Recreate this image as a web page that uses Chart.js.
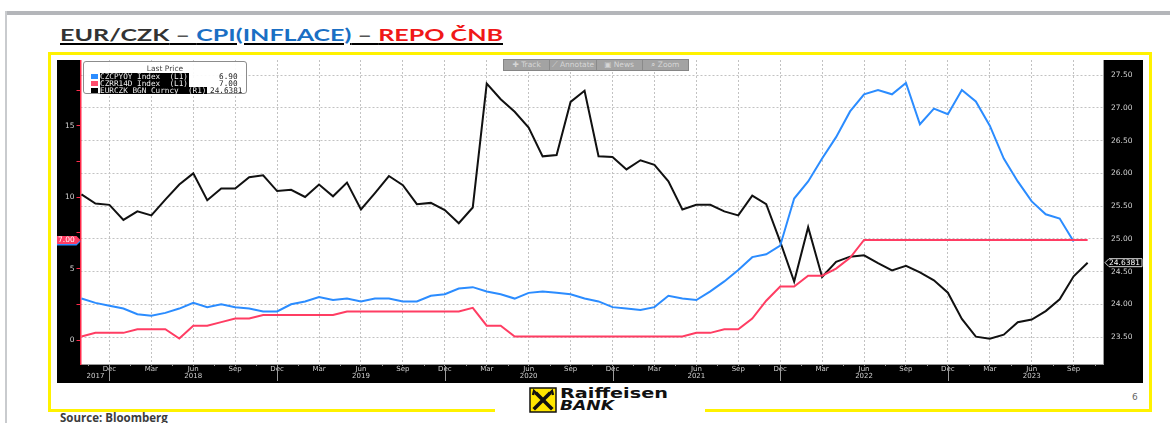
<!DOCTYPE html>
<html><head><meta charset="utf-8">
<script src="https://cdn.jsdelivr.net/npm/chart.js@4.4.0/dist/chart.umd.min.js"></script>
<style>
html,body{margin:0;padding:0;background:#fff;width:1170px;height:423px;overflow:hidden;position:relative;}
#topline{position:absolute;left:5px;top:11px;width:1165px;height:4px;background:#b4b6ba;}
#leftline{position:absolute;left:5px;top:11px;width:2px;height:412px;background:#c9cbce;}
#title{position:absolute;left:60px;top:24px;font:bold 17px Lato,'Open Sans',sans-serif;white-space:pre;text-decoration:underline;text-decoration-thickness:1.5px;text-underline-offset:2px;transform-origin:0 0;}
.y{position:absolute;background:#fff200;}
#chartwrap{position:absolute;left:57px;top:60px;width:1086px;height:323px;}
#legend{position:absolute;left:83px;top:61px;width:162px;height:31px;background:rgba(255,255,255,0.92);border:1px solid #8c8c8c;border-radius:3px;font-family:'DejaVu Sans Mono',monospace;font-size:7.7px;color:#222;}
#legend .lp{position:absolute;left:0;width:100%;top:3px;text-align:center;font-family:'DejaVu Sans',sans-serif;font-size:7.5px;color:#444;line-height:8px;}
#legend .row{position:absolute;left:0;width:100%;height:7px;}
#legend .sw{position:absolute;left:7px;top:1px;width:7px;height:5px;}
#legend .nm{position:absolute;left:16px;top:0;height:7px;line-height:7px;background:#000;color:#f0f0f0;white-space:pre;padding-right:1px;}
#legend .val{position:absolute;top:0;line-height:7px;color:#222;white-space:pre;}
#toolbar{position:absolute;left:503px;top:59px;width:184px;height:10px;background:#a3a3a3;border:1px solid #858585;font-family:'DejaVu Sans',sans-serif;font-size:7.5px;line-height:10px;color:#d6d6d6;display:flex;}
#toolbar span{flex:1;text-align:center;border-right:1px solid #8a8a8a;white-space:nowrap;}
#source{position:absolute;left:60px;top:410px;font:bold 11.5px 'Open Sans',sans-serif;color:#3c3c3c;}
#page{position:absolute;left:1132px;top:392px;font:9px 'DejaVu Sans',sans-serif;color:#666;}
#logo{position:absolute;left:524px;top:386px;width:154px;height:27px;background:#fff;}
#logo .t1{position:absolute;left:36px;top:-1px;font:bold 14px 'DejaVu Sans',sans-serif;color:#111;transform-origin:0 0;white-space:nowrap;}
#logo .t2{position:absolute;left:36px;top:11px;font:italic bold 14px 'DejaVu Sans',sans-serif;color:#111;transform-origin:0 0;white-space:nowrap;}
</style></head>
<body>
<div id="topline"></div><div id="leftline"></div>
<div id="title"><span style="color:#333">EUR/CZK</span><span style="color:#555"> – </span><span style="color:#1a6fc4">CPI(INFLACE)</span><span style="color:#555"> – </span><span style="color:#f01818">REPO ČNB</span></div>
<div class="y" style="left:48px;top:52px;width:1104px;height:3px"></div>
<div class="y" style="left:48px;top:52px;width:3px;height:360px"></div>
<div class="y" style="left:1149px;top:52px;width:3px;height:360px"></div>
<div class="y" style="left:48px;top:409px;width:447px;height:3px"></div>
<div class="y" style="left:705px;top:409px;width:447px;height:3px"></div>
<div id="chartwrap"><canvas id="c" width="1086" height="323"></canvas></div>
<div id="legend">
  <div class="lp">Last Price</div>
  <div class="row" style="top:11px"><span class="sw" style="background:#2b8cff"></span><span class="nm">CZCPYOY Index  (L1)</span><span class="val" style="left:135px">6.90</span></div>
  <div class="row" style="top:18px"><span class="sw" style="background:#ff4d6d"></span><span class="nm">CZRR14D Index  (L1)</span><span class="val" style="left:135px">7.00</span></div>
  <div class="row" style="top:25px"><span class="sw" style="background:#000"></span><span class="nm">EURCZK BGN Curncy  (R1)</span><span class="val" style="left:126px">24.6381</span></div>
</div>
<div id="toolbar"><span>✚ Track</span><span>⟋ Annotate</span><span>▣ News</span><span style="border-right:none">⌕ Zoom</span></div>
<div id="logo">
  <svg width="30" height="26" viewBox="0 0 28 26" style="position:absolute;left:4px;top:1px">
    <rect x="1" y="1" width="26" height="24" fill="#ffe600" stroke="#111" stroke-width="1.5"/>
    <path d="M6 21 L20 7" stroke="#111" stroke-width="3.6" stroke-linecap="square"/>
    <path d="M8 7 L22 21" stroke="#111" stroke-width="3.6" stroke-linecap="square"/>
    <path d="M20 7 L23 4 L24 8" stroke="#111" stroke-width="2.4" fill="none"/>
    <path d="M8 7 L5 4 L4 8" stroke="#111" stroke-width="2.4" fill="none"/>
  </svg>
  <div class="t1" id="lt1">Raiffeisen</div>
  <div class="t2" id="lt2">BANK</div>
</div>
<div id="page">6</div>
<div id="source">Source: Bloomberg</div>
<script>
// ---- data (monthly, month-end) ----
const categories = ['Oct 2017','Nov 2017','Dec 2017',
 'Jan 2018','Feb 2018','Mar 2018','Apr 2018','May 2018','Jun 2018','Jul 2018','Aug 2018','Sep 2018','Oct 2018','Nov 2018','Dec 2018',
 'Jan 2019','Feb 2019','Mar 2019','Apr 2019','May 2019','Jun 2019','Jul 2019','Aug 2019','Sep 2019','Oct 2019','Nov 2019','Dec 2019',
 'Jan 2020','Feb 2020','Mar 2020','Apr 2020','May 2020','Jun 2020','Jul 2020','Aug 2020','Sep 2020','Oct 2020','Nov 2020','Dec 2020',
 'Jan 2021','Feb 2021','Mar 2021','Apr 2021','May 2021','Jun 2021','Jul 2021','Aug 2021','Sep 2021','Oct 2021','Nov 2021','Dec 2021',
 'Jan 2022','Feb 2022','Mar 2022','Apr 2022','May 2022','Jun 2022','Jul 2022','Aug 2022','Sep 2022','Oct 2022','Nov 2022','Dec 2022',
 'Jan 2023','Feb 2023','Mar 2023','Apr 2023','May 2023','Jun 2023','Jul 2023','Aug 2023','Sep 2023','Oct 2023'];

const eurczk = [25.68,25.54,25.52,
 25.29,25.42,25.36,25.60,25.83,26.00,25.59,25.77,25.77,25.94,25.97,25.73,
 25.75,25.64,25.83,25.65,25.86,25.45,25.70,25.96,25.82,25.53,25.55,25.44,
 25.24,25.48,27.37,27.13,26.94,26.70,26.26,26.28,27.09,27.26,26.26,26.25,
 26.06,26.20,26.13,25.88,25.45,25.52,25.52,25.42,25.36,25.66,25.53,24.96,
 24.35,25.18,24.42,24.65,24.73,24.75,24.63,24.52,24.59,24.49,24.37,24.18,
 23.78,23.51,23.48,23.54,23.73,23.77,23.90,24.08,24.43,24.6381];

const cpi = [2.9,2.6,2.4,
 2.2,1.8,1.7,1.9,2.2,2.6,2.3,2.5,2.3,2.2,2.0,2.0,
 2.5,2.7,3.0,2.8,2.9,2.7,2.9,2.9,2.7,2.7,3.1,3.2,
 3.6,3.7,3.4,3.2,2.9,3.3,3.4,3.3,3.2,2.9,2.7,2.3,
 2.2,2.1,2.3,3.1,2.9,2.8,3.4,4.1,4.9,5.8,6.0,6.6,
 9.9,11.1,12.7,14.2,16.0,17.2,17.5,17.2,18.0,15.1,16.2,15.8,
 17.5,16.7,15.0,12.7,11.1,9.7,8.8,8.5,6.9];

const repo = [0.25,0.5,0.5,
 0.5,0.75,0.75,0.75,0.1,1.0,1.0,1.25,1.5,1.5,1.75,1.75,
 1.75,1.75,1.75,1.75,2.0,2.0,2.0,2.0,2.0,2.0,2.0,2.0,
 2.0,2.25,1.0,1.0,0.25,0.25,0.25,0.25,0.25,0.25,0.25,0.25,
 0.25,0.25,0.25,0.25,0.25,0.5,0.5,0.75,0.75,1.5,2.75,3.75,
 3.75,4.5,4.5,5.0,5.75,7.0,7.0,7.0,7.0,7.0,7.0,7.0,
 7.0,7.0,7.0,7.0,7.0,7.0,7.0,7.0,7.0,7.0];

// ---- tick labels ----
const tickIdx   = [1, 2,5,8,11, 14,17,20,23, 26,29,32,35, 38,41,44,47, 50,53,56,59, 62,65,68,71];
const tickMonth = ['', 'Dec','Mar','Jun','Sep','Dec','Mar','Jun','Sep','Dec','Mar','Jun','Sep','Dec','Mar','Jun','Sep','Dec','Mar','Jun','Sep','Dec','Mar','Jun','Sep'];
const tickYear  = ['2017','','','2018','','','','2019','','','','2020','','','','2021','','','','2022','','','','2023',''];
const yearSepIdx = [2,14,26,38,50,62];
const leftTicks  = [0,2.5,5,7.5,10,12.5,15,17.5];
const rightTicks = [23.5,24.0,24.5,25.0,25.5,26.0,26.5,27.0,27.5];
const lastCpi = 6.90, lastRepo = 7.00, lastFx = 24.6381;

const BLUE='#2b8cff', RED='#ff3d63', BLACK='#111111';

// fit text widths
function fitW(id,w){const t=document.getElementById(id);const cw=t.getBoundingClientRect().width;t.style.transform='scaleX('+(w/cw)+')';}
fitW('title',443); fitW('lt1',108); fitW('lt2',54);

function tag(ctx,x1,x2,yc,h,dir,fill,stroke,text,tcol){
  ctx.save();
  ctx.beginPath();
  const hh=h/2;
  if(dir==='right'){ctx.moveTo(x1,yc-hh);ctx.lineTo(x2-4,yc-hh);ctx.lineTo(x2,yc);ctx.lineTo(x2-4,yc+hh);ctx.lineTo(x1,yc+hh);}
  else {ctx.moveTo(x2,yc-hh);ctx.lineTo(x1+4,yc-hh);ctx.lineTo(x1,yc);ctx.lineTo(x1+4,yc+hh);ctx.lineTo(x2,yc+hh);}
  ctx.closePath();ctx.fillStyle=fill;ctx.fill();
  if(stroke){ctx.strokeStyle=stroke;ctx.lineWidth=1;ctx.stroke();}
  if(text){ctx.fillStyle=tcol;ctx.font='7.5px "DejaVu Sans"';ctx.textBaseline='middle';ctx.textAlign='left';
    ctx.fillText(text, dir==='right'? x1+1 : x1+4, yc+0.5);}
  ctx.restore();
}

function noPad(s){s.paddingTop=0;s.paddingBottom=0;s.paddingLeft=0;s.paddingRight=0;}

const bgPlugin={
  id:'bg',
  beforeDraw(chart){
    const {ctx,chartArea:a,width,height}=chart;
    ctx.save();ctx.fillStyle='#000';ctx.fillRect(0,0,width,height);
    ctx.fillStyle='#fff';ctx.fillRect(a.left,a.top,a.right-a.left,a.bottom-a.top);ctx.restore();
  },
  afterDraw(chart){
    const {ctx,chartArea:a,height}=chart;const xs=chart.scales.x;
    ctx.save();ctx.strokeStyle='#9c9c9c';ctx.lineWidth=1;
    yearSepIdx.forEach(i=>{const px=Math.round(xs.getPixelForValue(i))+0.5;ctx.beginPath();ctx.moveTo(px,a.bottom+2);ctx.lineTo(px,height-2);ctx.stroke();});
    for(let i=0.5;i<73;i+=3){const px=Math.round(xs.getPixelForValue(i))+0.5;ctx.beginPath();ctx.moveTo(px,a.bottom);ctx.lineTo(px,a.bottom+2);ctx.stroke();}
    ctx.restore();
    const yL=chart.scales.yL, yR=chart.scales.yR;
    tag(ctx,0,a.left,yL.getPixelForValue(lastCpi),8,'right',BLUE,null,'',null);
    tag(ctx,0,a.left,yL.getPixelForValue(lastRepo),8,'right',RED,null,lastRepo.toFixed(2),'#fff');
    tag(ctx,a.right+2,chart.width-1,yR.getPixelForValue(lastFx),8,'left','#000','#d8d8d8',String(lastFx),'#fff');
  }
};

const tickFont={family:'DejaVu Sans',size:7.5};
new Chart(document.getElementById('c'),{
  type:'line',
  data:{datasets:[
    {label:'CZRR14D Index (L1)',data:repo.map((v,i)=>({x:i,y:v})),yAxisID:'yL',borderColor:RED,borderWidth:2,pointRadius:0,tension:0},
    {label:'CZCPYOY Index (L1)',data:cpi.map((v,i)=>({x:i,y:v})),yAxisID:'yL',borderColor:BLUE,borderWidth:2,pointRadius:0,tension:0},
    {label:'EURCZK BGN Curncy (R1)',data:eurczk.map((v,i)=>({x:i,y:v})),yAxisID:'yR',borderColor:BLACK,borderWidth:2,pointRadius:0,tension:0}
  ]},
  options:{
    responsive:false,animation:false,devicePixelRatio:1,
    layout:{padding:0,autoPadding:false},
    plugins:{legend:{display:false},tooltip:{enabled:false}},
    scales:{
      x:{type:'linear',min:-0.07,max:73.1,position:'bottom',
        afterBuildTicks(s){s.ticks=tickIdx.map(v=>({value:v}));},
        afterFit(s){s.height=19;noPad(s);},
        ticks:{autoSkip:false,maxRotation:0,minRotation:0,color:'#cfcfcf',font:{family:'DejaVu Sans',size:7,lineHeight:1.0},padding:0,
          callback(v,i){return [tickMonth[i],tickYear[i]];}},
        grid:{color:c=>(c.tick&&c.tick.value===1)?'rgba(0,0,0,0)':'#c2c2c2',tickColor:c=>(c.tick&&c.tick.value===1)?'rgba(0,0,0,0)':'#9c9c9c',drawTicks:true,tickLength:2,lineWidth:1},
        border:{display:true,color:'#9a9a9a',dash:[2,2]}
      },
      yL:{type:'linear',position:'left',min:-1.68,max:19.6,
        afterBuildTicks(s){s.ticks=leftTicks.map(v=>({value:v}));},
        afterFit(s){s.width=23.5;noPad(s);},
        ticks:{color:'#d4d4d4',font:tickFont,padding:2,callback(v){return v%5===0?String(v):'';}},
        grid:{drawOnChartArea:false,drawTicks:true,tickLength:4,tickColor:'#ff2a4a'},
        border:{display:true,color:'#ff2a4a',width:1.5}
      },
      yR:{type:'linear',position:'right',min:23.093,max:27.729,
        afterBuildTicks(s){s.ticks=rightTicks.map(v=>({value:v}));},
        afterFit(s){s.width=40;noPad(s);},
        ticks:{color:'#d4d4d4',font:tickFont,padding:8,callback(v){return v.toFixed(2);}},
        grid:{drawOnChartArea:true,drawTicks:false,color:'#c2c2c2',lineWidth:1},
        border:{display:true,color:'#9a9a9a',dash:[2,2]}
      }
    }
  },
  plugins:[bgPlugin]
});
</script>
</body></html>
